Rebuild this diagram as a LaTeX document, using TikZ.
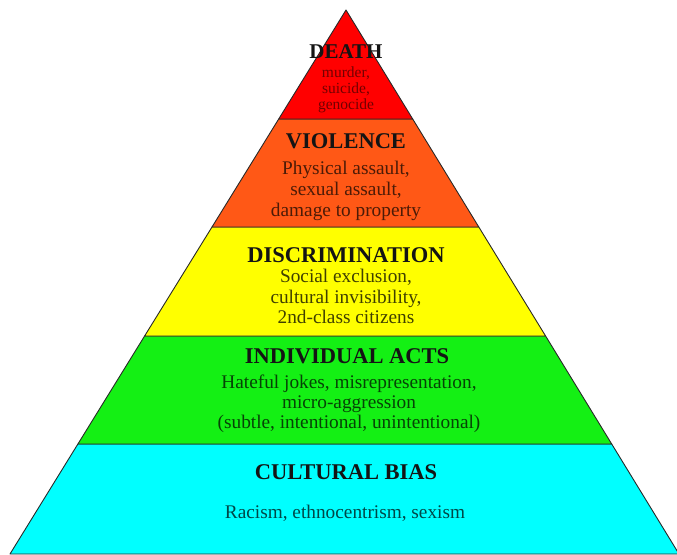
\documentclass[tikz,border=0pt]{standalone}
\usepackage{fontspec}
\setmainfont{Liberation Serif}
\definecolor{lvred}{RGB}{255,0,0}
\definecolor{lvorange}{RGB}{255,88,22}
\definecolor{lvyellow}{RGB}{255,255,0}
\definecolor{lvgreen}{RGB}{20,240,20}
\definecolor{lvcyan}{RGB}{0,255,255}
\definecolor{edgecol}{RGB}{40,40,40}
\begin{document}
\begin{tikzpicture}[x=1pt,y=-1pt,
  layer/.style={draw=edgecol,line width=0.9pt,line join=round},
  ttl/.style={anchor=base,inner sep=0pt,font=\fontsize{22.5}{25}\selectfont\bfseries,text=black!92},
  body/.style={anchor=base,inner sep=0pt,font=\fontsize{19.3}{21}\selectfont},
  small/.style={anchor=base,inner sep=0pt,font=\fontsize{15.5}{17}\selectfont}]
\useasboundingbox (0,0) rectangle (677,554);
\begin{scope}
\clip (0,0) rectangle (677,554);
% layers
\filldraw[layer,fill=lvcyan] (77.9,444) -- (611.7,444) -- (679,554) -- (10,554) -- cycle;
\filldraw[layer,fill=lvgreen] (144.6,336) -- (545.6,336) -- (611.7,444) -- (77.9,444) -- cycle;
\filldraw[layer,fill=lvyellow] (212.0,227) -- (478.8,227) -- (545.6,336) -- (144.6,336) -- cycle;
\filldraw[layer,fill=lvorange] (278.7,119) -- (412.7,119) -- (478.8,227) -- (212.0,227) -- cycle;
\filldraw[layer,fill=lvred] (346,10) -- (412.7,119) -- (278.7,119) -- cycle;
\end{scope}
% DEATH
\node[ttl,font=\fontsize{21}{24}\selectfont\bfseries] (death) at (346,58) {DEATH};
\node[small,text=black!55!lvred] (d1) at (346,77) {murder,};
\node[small,text=black!55!lvred] (d2) at (346,93) {suicide,};
\node[small,text=black!55!lvred] (d3) at (346,109) {genocide};
% VIOLENCE
\node[ttl] (viol) at (346,148) {VIOLENCE};
\node[body,text=black!70!lvorange] (v1) at (346,174) {Physical assault,};
\node[body,text=black!70!lvorange] (v2) at (346,195) {sexual assault,};
\node[body,text=black!70!lvorange] (v3) at (346,216) {damage to property};
% DISCRIMINATION
\node[ttl] (disc) at (346,262) {DISCRIMINATION};
\node[body,text=black!75!lvyellow] (c1) at (346,282) {Social exclusion,};
\node[body,text=black!75!lvyellow] (c2) at (346,303) {cultural invisibility,};
\node[body,text=black!75!lvyellow] (c3) at (346,323) {2nd-class citizens};
% INDIVIDUAL ACTS
\node[ttl] (indiv) at (347,363) {INDIVIDUAL ACTS};
\node[body,text=black!72!lvgreen] (i1) at (349,388) {Hateful jokes, misrepresentation,};
\node[body,text=black!72!lvgreen] (i2) at (349,408) {micro-aggression};
\node[body,text=black!72!lvgreen] (i3) at (349,428) {(subtle, intentional, unintentional)};
% CULTURAL BIAS
\node[ttl] (bias) at (346,479) {CULTURAL BIAS};
\node[body,text=black!72!lvcyan] (b1) at (345,518) {Racism, ethnocentrism, sexism};
\end{tikzpicture}
\end{document}
